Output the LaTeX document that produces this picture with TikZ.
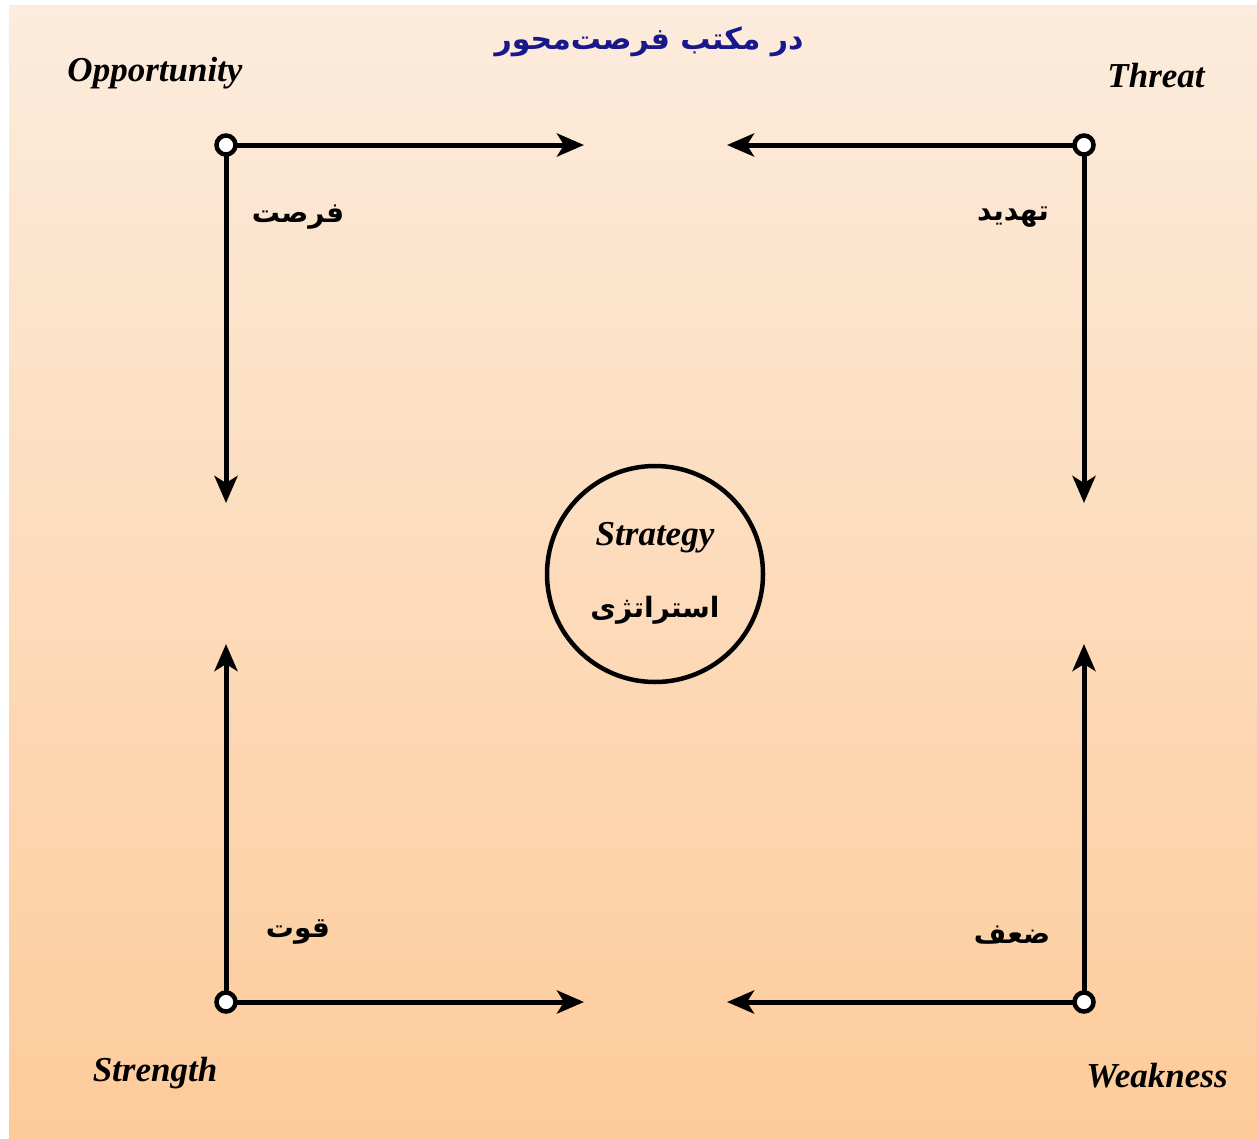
\documentclass[tikz,border=0pt]{standalone}
\usepackage{fontspec}
\setmainfont{Liberation Serif}
\newfontfamily\fa[Script=Arabic]{DejaVu Sans}
\TeXXeTstate=1
\usetikzlibrary{arrows.meta}
\definecolor{bgtop}{RGB}{252,236,221}
\definecolor{bgbot}{RGB}{253,203,154}
\definecolor{titleblue}{RGB}{24,24,140}
\tikzset{
  conn/.style={line width=5pt, -{Stealth[length=27pt,width=23pt,inset=7pt]}},
  endpt/.style={circle, draw, line width=4.5pt, fill=white, minimum size=19pt, inner sep=0pt},
  entxt/.style={font=\fontsize{35}{40}\selectfont\bfseries\itshape},
  fatxt/.style={font=\fontsize{28}{32}\selectfont\fa\bfseries},
}
\begin{document}
\begin{tikzpicture}[x=1pt,y=-1pt]
\useasboundingbox (0,0) rectangle (1257,1138);
\fill[white] (0,0) rectangle (1257,1138);
\shade[top color=bgtop, bottom color=bgbot] (9,5) rectangle (1257,1138);
% title
\node[font=\fontsize{30}{36}\selectfont\fa\bfseries, text=titleblue] (title) at (649,42) {\beginR در مکتب فرصت‌محور\endR};
% corner labels
\node[entxt] (opp) at (155,73) {Opportunity};
\node[entxt] (thr) at (1156,76) {Threat};
\node[entxt] (str) at (155,1073) {Strength};
\node[entxt] (weak) at (1157,1076) {Weakness};
% persian labels
\node[fatxt] (fo) at (298,217) {\beginR فرصت\endR};
\node[fatxt] (ta) at (1013,217) {\beginR تهدید\endR};
\node[fatxt] (qo) at (298,932) {\beginR قوت\endR};
\node[fatxt] (za) at (1012,935) {\beginR ضعف\endR};
% arrow tips
\coordinate (tl1) at (584,145);
\coordinate (tl2) at (226,503);
\coordinate (tr1) at (727,145);
\coordinate (tr2) at (1084,503);
\coordinate (bl1) at (584,1002);
\coordinate (bl2) at (226,644);
\coordinate (br1) at (727,1002);
\coordinate (br2) at (1084,644);
% connectors
\coordinate (ptl) at (226,145);
\coordinate (ptr) at (1084,145);
\coordinate (pbl) at (226,1002);
\coordinate (pbr) at (1084,1002);
\draw[conn] (ptl) -- (tl1);
\draw[conn] (ptl) -- (tl2);
\draw[conn] (ptr) -- (tr1);
\draw[conn] (ptr) -- (tr2);
\draw[conn] (pbl) -- (bl1);
\draw[conn] (pbl) -- (bl2);
\draw[conn] (pbr) -- (br1);
\draw[conn] (pbr) -- (br2);
\node[endpt] (ctl) at (ptl) {};
\node[endpt] (ctr) at (ptr) {};
\node[endpt] (cbl) at (pbl) {};
\node[endpt] (cbr) at (pbr) {};
% center circle
\node[circle, draw, line width=4.5pt, minimum size=216pt, inner sep=0pt] (strat) at (655,574) {};
\node[entxt] (stren) at (655,538) {Strategy};
\node[fatxt] (stfa) at (655,610) {\beginR استراتژی\endR};
\end{tikzpicture}
\end{document}
